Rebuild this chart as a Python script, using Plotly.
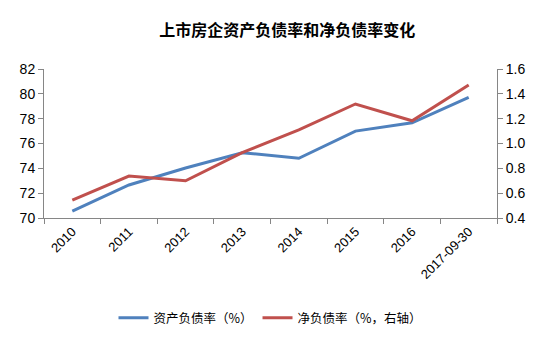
import plotly.graph_objects as go

# Year labels on the category axis
years = ["2010", "2011", "2012", "2013", "2014", "2015", "2016", "2017-09-30"]
# Asset-liability ratio (%), left axis
asset_liability = [70.56, 72.66, 74.03, 75.26, 74.81, 77.0, 77.67, 79.72]
# Net debt ratio (right axis)
net_debt = [0.543, 0.738, 0.70, 0.926, 1.109, 1.318, 1.183, 1.471]

left_ticks = [70, 72, 74, 76, 78, 80, 82]
right_ticks = [0.4, 0.6, 0.8, 1.0, 1.2, 1.4, 1.6]

BLUE = "#4F81BD"
RED = "#C0504D"
AXIS = "#868686"
FONT = "Liberation Sans, Noto Sans CJK SC, sans-serif"

fig = go.Figure()
fig.add_trace(go.Scatter(
    x=years, y=asset_liability, name="资产负债率（%）", mode="lines",
    line=dict(color=BLUE, width=3), yaxis="y",
))
fig.add_trace(go.Scatter(
    x=years, y=net_debt, name="净负债率（%，右轴）", mode="lines",
    line=dict(color=RED, width=3), yaxis="y2",
))

fig.update_layout(
    width=537, height=337,
    margin=dict(l=44, r=40, t=69, b=119, autoexpand=False),
    paper_bgcolor="white", plot_bgcolor="white",
    font=dict(family=FONT, size=13, color="#000000"),
    title=dict(
        text="<b>上市房企资产负债率和净负债率变化</b>",
        x=0.535, xanchor="center", y=0.91, yanchor="middle",
        font=dict(family="Noto Sans CJK SC, sans-serif", size=16, color="#000000"),
    ),
    showlegend=True,
    legend=dict(
        orientation="h", x=0.5, xanchor="center",
        yref="container", y=0.056, yanchor="middle",
        font=dict(family="Noto Sans CJK SC, sans-serif", size=12.5),
        itemwidth=30, tracegroupgap=0,
    ),
    xaxis=dict(
        type="category", categoryorder="array", categoryarray=years,
        range=[-0.5, len(years) - 0.5],
        tickson="boundaries", ticks="outside", ticklen=5, tickcolor=AXIS,
        showline=True, linecolor=AXIS, linewidth=1,
        showgrid=False, zeroline=False, tickangle=-45,
        tickfont=dict(size=13),
    ),
    yaxis=dict(
        range=[70, 82], tickvals=left_ticks,
        ticks="outside", ticklen=5, tickcolor=AXIS,
        showline=True, linecolor=AXIS, linewidth=1,
        showgrid=False, zeroline=False, tickfont=dict(size=14),
    ),
    yaxis2=dict(
        range=[0.4, 1.6], tickvals=right_ticks,
        ticktext=[f"{v:.1f}" for v in right_ticks],
        overlaying="y", side="right",
        ticks="outside", ticklen=5, tickcolor=AXIS,
        showline=True, linecolor=AXIS, linewidth=1,
        showgrid=False, zeroline=False, tickfont=dict(size=14),
    ),
)

fig.write_html("out.html")
